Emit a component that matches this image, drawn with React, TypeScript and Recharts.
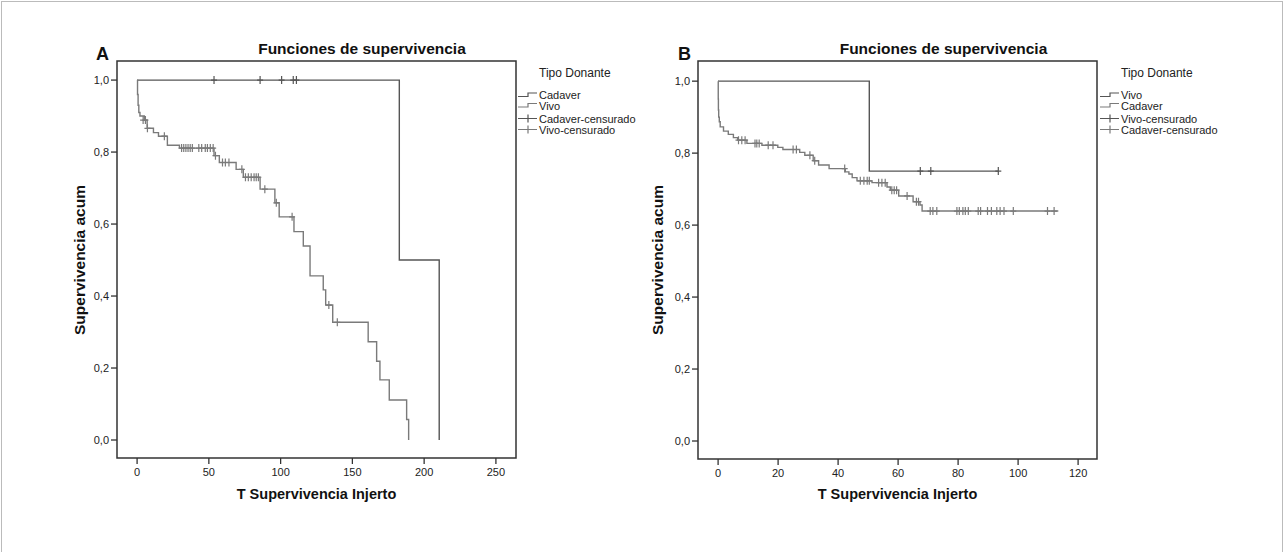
import { ComposedChart, Line, Scatter, XAxis, YAxis, ReferenceArea } from "recharts";

// Panel A - survival by donor type (events: time, cumulative survival after event)
const aCadTimes = [0, 182.7, 210.5];
const aCadSurv = [1, 0.5, 0];
const aCadCensTimes = [53.6, 85.7, 100.7, 108.8, 111];
const aCadCensSurv = [1, 1, 1, 1, 1];

const aVivTimes = [
  0, 0.3, 0.7, 1.2, 2, 5, 7, 11.4, 14.9, 21.1, 29.5, 53.6, 57.3, 69, 74, 85.7, 96, 99, 109.3,
  115.8, 120.5, 129.7, 131.4, 136.3, 161, 166.9, 169.2, 175.7, 187.8, 189.2,
];
const aVivSurv = [
  1, 0.96, 0.93, 0.91, 0.9, 0.889, 0.866, 0.854, 0.844, 0.819, 0.811, 0.79, 0.771, 0.752, 0.73,
  0.697, 0.659, 0.62, 0.579, 0.539, 0.456, 0.417, 0.375, 0.327, 0.273, 0.219, 0.167, 0.111, 0.057, 0,
];
const aVivCensTimes = [
  4.2, 5.8, 7.2, 19, 31, 32.5, 34, 35.5, 37, 38.5, 43, 45, 47.5, 49, 51, 53, 54.6, 59.5, 61.5, 64,
  73, 75.5, 77.5, 79.5, 81.5, 83, 84.5, 89, 97, 108, 133.6, 139.5,
];
const aVivCensSurv = [
  0.889, 0.889, 0.866, 0.844, 0.811, 0.811, 0.811, 0.811, 0.811, 0.811, 0.811, 0.811, 0.811, 0.811,
  0.811, 0.811, 0.79, 0.771, 0.771, 0.771, 0.752, 0.73, 0.73, 0.73, 0.73, 0.73, 0.73, 0.697, 0.659,
  0.62, 0.375, 0.327,
];

// Panel B
const bVivTimes = [0, 50.4, 93.4];
const bVivSurv = [1, 0.75, 0.75];
const bVivCensTimes = [67.4, 70.9, 93.4];
const bVivCensSurv = [0.75, 0.75, 0.75];

const bCadTimes = [
  0, 0.05, 0.1, 0.2, 0.4, 0.7, 1.8, 3.4, 5.1, 6.5, 9.6, 14.6, 19.9, 21.6, 27.2, 28.9, 31.7, 33.5,
  37, 42.4, 43.6, 44.7, 46.3, 51.3, 56.3, 57.4, 60.2, 65, 67.3, 68, 113.4,
];
const bCadSurv = [
  1, 0.95, 0.92, 0.9, 0.887, 0.873, 0.861, 0.852, 0.843, 0.836, 0.827, 0.822, 0.816, 0.81, 0.802,
  0.794, 0.779, 0.767, 0.757, 0.748, 0.742, 0.732, 0.723, 0.718, 0.706, 0.697, 0.681, 0.665, 0.656,
  0.639, 0.639,
];
const bCadCensTimes = [
  6.8, 7.9, 9, 12.3, 12.9, 13.7, 16.7, 18.3, 25, 26.1, 30.6, 32.2, 42.2, 47.4, 48.6, 49.7, 50.4,
  53.5, 54.6, 55.7, 57.9, 58.7, 59.5, 63, 66.1, 66.8, 70.7, 71.6, 72.9, 79.6, 80.4, 81.6, 82.4,
  83.4, 86.7, 87.5, 89.8, 91.1, 92.9, 94, 95.3, 98.4, 109.8, 112,
];
const bCadCensSurv = [
  0.836, 0.836, 0.836, 0.827, 0.827, 0.827, 0.822, 0.822, 0.81, 0.81, 0.794, 0.779, 0.757, 0.723,
  0.723, 0.723, 0.723, 0.718, 0.718, 0.718, 0.697, 0.697, 0.697, 0.681, 0.665, 0.665, 0.639, 0.639,
  0.639, 0.639, 0.639, 0.639, 0.639, 0.639, 0.639, 0.639, 0.639, 0.639, 0.639, 0.639, 0.639, 0.639,
  0.639, 0.639,
];

const aXTicks = [0, 50, 100, 150, 200, 250];
const bXTicks = [0, 20, 40, 60, 80, 100, 120];
const yTicks = [0, 0.2, 0.4, 0.6, 0.8, 1];
const legendA = ["Cadaver", "Vivo", "Cadaver-censurado", "Vivo-censurado"];
const legendB = ["Vivo", "Cadaver", "Vivo-censurado", "Cadaver-censurado"];

const DARK = "#555";
const LIGHT = "#7a7a7a";
const FONT = "'Liberation Sans', Arial, sans-serif";

const toPts = (t: number[], s: number[]) => t.map((x, i) => ({ t: x, s: s[i] }));

const plus = (color: string) => (p: any) => (
  <path
    d={`M${p.cx - 3},${p.cy}h6M${p.cx},${p.cy - 4}v8`}
    stroke={color}
    strokeWidth={1.2}
    fill="none"
  />
);

interface SeriesDef {
  line: { t: number; s: number }[];
  cens: { t: number; s: number }[];
  color: string;
}

interface PanelProps {
  left: number;
  width: number;
  margin: { top: number; right: number; bottom: number; left: number };
  xDomain: [number, number];
  yDomain: [number, number];
  xTicks: number[];
  series: SeriesDef[];
}

function Panel({ left, width, margin, xDomain, yDomain, xTicks, series }: PanelProps) {
  const tick = { fontSize: 11, fill: "#222", fontFamily: FONT };
  return (
    <div style={{ position: "absolute", left, top: 0 }}>
      <ComposedChart width={width} height={552} margin={margin}>
        <XAxis
          type="number"
          dataKey="t"
          domain={xDomain}
          ticks={xTicks}
          allowDataOverflow
          axisLine={false}
          tickSize={6}
          tickMargin={4}
          tickLine={{ stroke: "#333", strokeWidth: 1.3 }}
          tick={tick}
          height={30}
          interval={0}
        />
        <YAxis
          type="number"
          dataKey="s"
          domain={yDomain}
          ticks={yTicks}
          allowDataOverflow
          axisLine={false}
          tickSize={6}
          tickMargin={2}
          tickLine={{ stroke: "#333", strokeWidth: 1.3 }}
          tick={tick}
          width={40}
          interval={0}
          tickFormatter={(v: number) => v.toFixed(1).replace(".", ",")}
        />
        <ReferenceArea
          x1={xDomain[0]}
          x2={xDomain[1]}
          y1={yDomain[0]}
          y2={yDomain[1]}
          fill="none"
          stroke="#333"
          strokeWidth={1.5}
          ifOverflow="visible"
        />
        {series.map((s, i) => (
          <Line
            key={`l${i}`}
            data={s.line}
            dataKey="s"
            type="stepAfter"
            stroke={s.color}
            strokeWidth={1.4}
            dot={false}
            isAnimationActive={false}
          />
        ))}
        {series.map((s, i) => (
          <Scatter
            key={`c${i}`}
            data={s.cens}
            dataKey="s"
            shape={plus(s.color)}
            isAnimationActive={false}
          />
        ))}
      </ComposedChart>
    </div>
  );
}

function LegendBox({ x, labels }: { x: number; labels: string[] }) {
  const rows = [99, 109.5, 122.5, 133.5];
  const colors = [DARK, LIGHT, DARK, LIGHT];
  return (
    <g fontFamily={FONT} fill="#222">
      <text x={x + 21} y={77} fontSize={12}>
        Tipo Donante
      </text>
      {labels.map((lab, i) => {
        const cy = rows[i] - 4;
        const icon =
          i < 2 ? (
            <path d={`M${x},${cy + 1.5}h10v-3.5h9`} stroke={colors[i]} strokeWidth={1.2} fill="none" />
          ) : (
            <path d={`M${x},${cy}h19M${x + 10},${cy - 4}v8`} stroke={colors[i]} strokeWidth={1.2} fill="none" />
          );
        return (
          <g key={lab}>
            {icon}
            <text x={x + 21} y={rows[i]} fontSize={11}>
              {lab}
            </text>
          </g>
        );
      })}
    </g>
  );
}

export default function App() {
  const seriesA: SeriesDef[] = [
    { line: toPts(aCadTimes, aCadSurv), cens: toPts(aCadCensTimes, aCadCensSurv), color: DARK },
    { line: toPts(aVivTimes, aVivSurv), cens: toPts(aVivCensTimes, aVivCensSurv), color: LIGHT },
  ];
  const seriesB: SeriesDef[] = [
    { line: toPts(bVivTimes, bVivSurv), cens: toPts(bVivCensTimes, bVivCensSurv), color: DARK },
    { line: toPts(bCadTimes, bCadSurv), cens: toPts(bCadCensTimes, bCadCensSurv), color: LIGHT },
  ];
  return (
    <div
      style={{
        position: "absolute",
        left: 0,
        top: 0,
        width: 1285,
        height: 552,
        background: "#fff",
        overflow: "hidden",
      }}
    >
      <Panel
        left={0}
        width={660}
        margin={{ top: 61, right: 144, bottom: 64, left: 77 }}
        xDomain={[-14, 264]}
        yDomain={[-0.05, 1.053]}
        xTicks={aXTicks}
        series={seriesA}
      />
      <Panel
        left={640}
        width={645}
        margin={{ top: 61, right: 188, bottom: 63, left: 18 }}
        xDomain={[-6.7, 126.3]}
        yDomain={[-0.05, 1.056]}
        xTicks={bXTicks}
        series={seriesB}
      />
      <svg
        width={1285}
        height={552}
        style={{ position: "absolute", left: 0, top: 0, pointerEvents: "none" }}
      >
        <rect x={1.5} y={1.5} width={1281} height={560} fill="none" stroke="#bbb" strokeWidth={1} />
        <g fontFamily={FONT} fontWeight="bold" fill="#111">
          <text x={96} y={60} fontSize={18}>A</text>
          <text x={678} y={60} fontSize={18}>B</text>
          <text x={362} y={53.5} fontSize={15.5} textAnchor="middle">Funciones de supervivencia</text>
          <text x={943.5} y={53.5} fontSize={15.5} textAnchor="middle">Funciones de supervivencia</text>
          <text x={316.5} y={499} fontSize={14.5} textAnchor="middle">T Supervivencia Injerto</text>
          <text x={897.5} y={499} fontSize={14.5} textAnchor="middle">T Supervivencia Injerto</text>
          <text x={85} y={260} fontSize={15.5} textAnchor="middle" transform="rotate(-90 85 260)">
            Supervivencia acum
          </text>
          <text x={663} y={260} fontSize={15.5} textAnchor="middle" transform="rotate(-90 663 260)">
            Supervivencia acum
          </text>
        </g>
        <LegendBox x={518} labels={legendA} />
        <LegendBox x={1100} labels={legendB} />
      </svg>
    </div>
  );
}
